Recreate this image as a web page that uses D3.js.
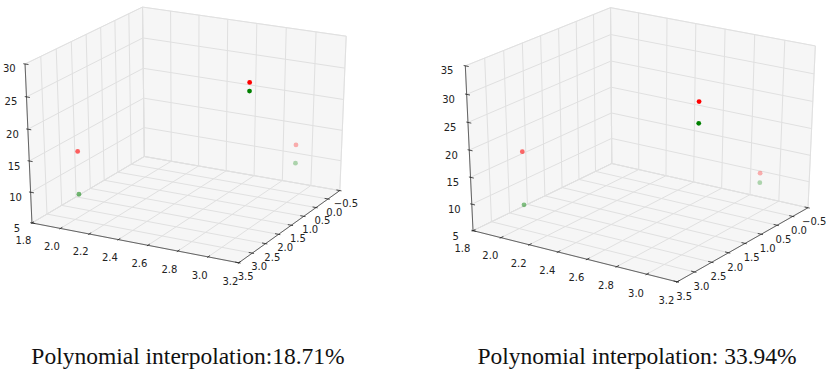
<!DOCTYPE html>
<html>
<head>
<meta charset="utf-8">
<script src="https://cdn.jsdelivr.net/npm/d3@7"></script>
<style>
  body { margin: 0; background: #fff; }
  svg { display: block; }
  .tick-label { font-family: "DejaVu Sans", sans-serif; font-size: 10px; fill: #222; }
  .caption { font-family: "Liberation Serif", "Times New Roman", serif; font-size: 23.5px; fill: #111; }
</style>
</head>
<body>
<svg id="chart" width="826" height="372"></svg>
<script>
// tick values of the three axes
const xTicks = [1.8, 2.0, 2.2, 2.4, 2.6, 2.8, 3.0, 3.2];
const yTicks = [-0.5, 0.0, 0.5, 1.0, 1.5, 2.0, 2.5, 3.0, 3.5];
const zTicksLeft = [5, 10, 15, 20, 25, 30];
const zTicksRight = [5, 10, 15, 20, 25, 30, 35];

// the three sample locations (shared by both plots)
const pointX = [2.0, 3.0, 2.97];
const pointY = [2.85, 2.05, 0.0];

// heights of the red and green points
const redLeft = [15.6, 28.1, 13.0];
const greenLeft = [8.7, 26.8, 10.0];
const redRight = [18.9, 31.2, 11.8];
const greenRight = [9.0, 27.4, 10.0];

const captions = ["Polynomial interpolation:18.71%", "Polynomial interpolation: 33.94%"];

const svg = d3.select("#chart");

// view setup of each subplot (camera angles and where the box lands on the page)
const panels = [
  { zTicks: zTicksLeft, red: redLeft, green: greenLeft, caption: captions[0],
    elev: 25, azim: -62, ox: 188.7, kx: 2323.6, oy: 129.8, ky: 1727.5, capX: 188 },
  { zTicks: zTicksRight, red: redRight, green: greenRight, caption: captions[1],
    elev: 26, azim: -56, ox: 642.5, kx: 2465.6, oy: 139.2, ky: 1816, capX: 637 },
];

const dot = (a, b) => a[0] * b[0] + a[1] * b[1] + a[2] * b[2];

// perspective camera like mplot3d: eye at distance `dist` from the box centre
function makeProj(elev, azim, dist) {
  const e = (elev * Math.PI) / 180, a = (azim * Math.PI) / 180;
  const n = [Math.cos(e) * Math.cos(a), Math.cos(e) * Math.sin(a), Math.sin(e)];
  const eye = n.map((c) => 0.5 + dist * c);
  const ul = Math.hypot(n[0], n[1]);
  const u = [-n[1] / ul, n[0] / ul, 0];
  const v = [n[1] * u[2] - n[2] * u[1], n[2] * u[0] - n[0] * u[2], n[0] * u[1] - n[1] * u[0]];
  return (p) => {
    const d = [p[0] - eye[0], p[1] - eye[1], p[2] - eye[2]];
    const X = dot(u, d), Y = dot(v, d), Z = dot(n, d);
    return [X / -Z, Y / -Z, -dist / -Z];
  };
}

const fmt1 = d3.format(".1f");
const fmtInt = d3.format("d");

function drawPanel(p) {
  const g = svg.append("g");
  const xs = d3.scaleLinear().domain(d3.extent(xTicks)).range([0, 1]);
  const ys = d3.scaleLinear().domain([d3.max(yTicks), d3.min(yTicks)]).range([0, 1]);
  const zs = d3.scaleLinear().domain(d3.extent(p.zTicks)).range([0, 1]);
  const sx = d3.scaleLinear().domain([0, 1]).range([p.ox, p.ox + p.kx]);
  const sy = d3.scaleLinear().domain([0, 1]).range([p.oy, p.oy - p.ky]);
  const proj = makeProj(p.elev, p.azim, 10);
  const pt = (q) => {
    const r = proj(q);
    return [sx(r[0]), sy(r[1])];
  };
  const line = d3.line();

  // panes: left wall, back wall, floor
  const panes = [
    [[0, 0, 0], [0, 1, 0], [0, 1, 1], [0, 0, 1]],
    [[0, 1, 0], [1, 1, 0], [1, 1, 1], [0, 1, 1]],
    [[0, 0, 0], [1, 0, 0], [1, 1, 0], [0, 1, 0]],
  ];
  g.selectAll(".pane")
    .data(panes)
    .join("path")
    .attr("class", "pane")
    .attr("d", (d) => line(d.map(pt)) + "Z")
    .attr("fill", "#ededed")
    .attr("fill-opacity", 0.5)
    .attr("stroke", "#ebebeb")
    .attr("stroke-width", 1);

  // grid lines
  const grid = [
    ...xTicks.map((t) => [[xs(t), 0, 0], [xs(t), 1, 0], [xs(t), 1, 1]]),
    ...yTicks.map((t) => [[1, ys(t), 0], [0, ys(t), 0], [0, ys(t), 1]]),
    ...p.zTicks.map((t) => [[0, 0, zs(t)], [0, 1, zs(t)], [1, 1, zs(t)]]),
  ];
  g.selectAll(".grid")
    .data(grid)
    .join("path")
    .attr("class", "grid")
    .attr("d", (d) => line(d.map(pt)))
    .attr("fill", "none")
    .attr("stroke", "#e0e0e0")
    .attr("stroke-width", 1);

  // axis lines
  const axes = [
    [[0, 0, 0], [1, 0, 0]],
    [[1, 0, 0], [1, 1, 0]],
    [[0, 0, 0], [0, 0, 1]],
  ];
  g.selectAll(".axis-line")
    .data(axes)
    .join("path")
    .attr("class", "axis-line")
    .attr("d", (d) => line(d.map(pt)))
    .attr("stroke", "#444")
    .attr("stroke-width", 0.8);

  // tick marks
  const out = 0.1 / 12, inn = 0.2 / 12;
  const ticks = [
    ...xTicks.map((t) => [[xs(t), -out, 0], [xs(t), inn, 0]]),
    ...yTicks.map((t) => [[1 + out, ys(t), 0], [1 - inn, ys(t), 0]]),
    ...p.zTicks.map((t) => [[-out, 0, zs(t)], [inn, 0, zs(t)]]),
  ];
  g.selectAll(".tick-mark")
    .data(ticks)
    .join("path")
    .attr("class", "tick-mark")
    .attr("d", (d) => line(d.map(pt)))
    .attr("stroke", "#222")
    .attr("stroke-width", 0.8);

  // tick labels
  const labels = [
    ...xTicks.map((t) => ({ text: fmt1(t), pos: [xs(t), -0.075, -0.08] })),
    ...yTicks.map((t) => ({ text: fmt1(t), pos: [1.033, ys(t), -0.08] })),
    ...p.zTicks.map((t) => ({ text: fmtInt(t), pos: [-0.02, -0.09, zs(t)] })),
  ];
  g.selectAll(".tick-label")
    .data(labels)
    .join("text")
    .attr("class", "tick-label")
    .attr("x", (d) => pt(d.pos)[0])
    .attr("y", (d) => pt(d.pos)[1])
    .attr("text-anchor", "middle")
    .attr("dominant-baseline", "central")
    .text((d) => d.text);

  // scatter series with depth shading (nearest opaque, farthest 0.3)
  const series = [
    { color: "#ff0000", values: p.red },
    { color: "#008000", values: p.green },
  ];
  series.forEach((s) => {
    const pts = s.values.map((z, i) => {
      const q = [xs(pointX[i]), ys(pointY[i]), zs(z)];
      const r = proj(q);
      return { x: sx(r[0]), y: sy(r[1]), depth: r[2] };
    });
    const norm = d3.scaleLinear().domain(d3.extent(pts, (d) => d.depth)).range([0, 1]);
    pts.sort((a, b) => b.depth - a.depth);
    g.selectAll(null)
      .data(pts)
      .join("circle")
      .attr("cx", (d) => d.x)
      .attr("cy", (d) => d.y)
      .attr("r", 2.4)
      .attr("fill", s.color)
      .attr("fill-opacity", (d) => 1 - 0.7 * norm(d.depth));
  });

  svg.append("text")
    .attr("class", "caption")
    .attr("x", p.capX)
    .attr("y", 364)
    .attr("text-anchor", "middle")
    .text(p.caption);
}

panels.forEach(drawPanel);
</script>
</body>
</html>
